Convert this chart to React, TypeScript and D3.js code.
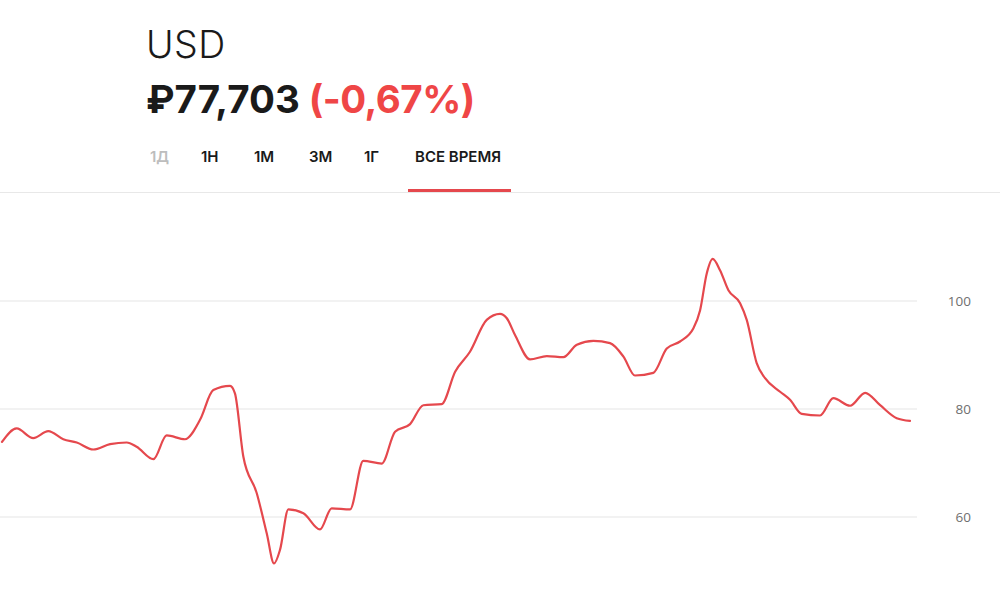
import React from "react";
import * as d3 from "d3";

// months since Jan 2021
const months = [0.0,0.84,1.79,2.65,3.51,4.28,5.23,6.19,7.14,7.71,8.67,9.43,10.48,11.34,12.10,13.06,13.34,13.82,14.59,15.16,15.58,15.92,16.40,17.26,18.21,18.88,19.93,20.69,21.75,22.51,23.37,24.13,25.18,25.95,26.80,27.76,28.52,28.91,29.38,30.24,31.20,32.15,32.92,33.87,34.82,35.59,36.25,37.30,38.07,38.83,39.59,39.98,40.36,40.70,41.12,41.60,42.27,42.65,43.22,43.70,44.56,45.13,45.80,46.85,47.61,48.57,49.43,50.29,51.24,52.0];
const rates = [73.9,76.4,74.6,75.9,74.4,73.8,72.5,73.5,73.8,73.0,70.7,75.1,74.4,78.0,83.5,84.3,82.9,71.2,64.4,57.0,51.4,53.9,61.4,60.7,57.7,61.6,61.4,70.4,69.9,75.8,77.2,80.7,80.9,86.9,90.6,96.5,97.6,96.8,93.7,89.2,89.8,89.6,91.9,92.6,92.2,89.7,86.2,86.7,91.2,92.5,94.9,98.3,105.1,107.8,105.7,102.0,99.6,96.5,88.5,85.7,83.2,81.7,79.1,78.8,82.0,80.6,83.0,80.7,78.3,77.8];
const yTicks = [60, 80, 100];
const tabs = ["1Д", "1Н", "1М", "3М", "1Г", "ВСЕ ВРЕМЯ"];
const tabX = [150, 201, 254, 309, 364, 415];

const W = 1000, H = 604;
const RED = "#e5484d";

export default function App() {
  const x = d3.scaleLinear().domain([0, 52]).range([2, 910]);
  const y = d3.scaleLinear().domain([60, 100]).range([517, 301]);
  const line = d3.line<number>()
    .x((_, i) => x(months[i]))
    .y((d) => y(d))
    .curve(d3.curveMonotoneX);

  return (
    <div style={{ position: "absolute", left: 0, top: 0, width: W, height: H, background: "#fff" }}>
      <svg width={W} height={H} style={{ display: "block" }}>
        <rect width={W} height={H} fill="#fff" />
        <text x={146} y={58} fontFamily="Inter, 'Noto Sans', sans-serif" fontWeight={300} fontSize={37.5} fill="#1a1a1a" letterSpacing={0.5}>USD</text>
        <text x={146} y={113} fontFamily="Inter, 'Noto Sans', sans-serif" fontWeight={700} fontSize={38.5} fill="#1a1a1a">
          ₽77,703<tspan fill="#ef4646" dx={9} letterSpacing={-0.5}>(-0,67%)</tspan>
        </text>
        {tabs.map((t, i) => (
          <text key={t} x={tabX[i]} y={162} fontFamily="Inter, 'Noto Sans', sans-serif" fontWeight={600} fontSize={15}
            fill={i === 0 ? "#bdbdbd" : "#1a1a1a"}>{t}</text>
        ))}
        <line x1={0} x2={W} y1={192.5} y2={192.5} stroke="#e8e8e8" strokeWidth={1} />
        <rect x={408} y={189} width={103} height={3} fill={RED} />
        {yTicks.map((t) => (
          <g key={t}>
            <line x1={0} x2={917} y1={y(t)} y2={y(t)} stroke="#e6e6e6" strokeWidth={1.2} />
            <text x={971} y={y(t)} dy="0.35em" textAnchor="end" fontFamily="'Open Sans', 'Noto Sans', sans-serif" fontSize={13.5} fill="#6f6f6f">{t}</text>
          </g>
        ))}
        <path d={line(rates) || ""} fill="none" stroke={RED} strokeWidth={2.2} strokeLinejoin="round" strokeLinecap="round" />
      </svg>
    </div>
  );
}
